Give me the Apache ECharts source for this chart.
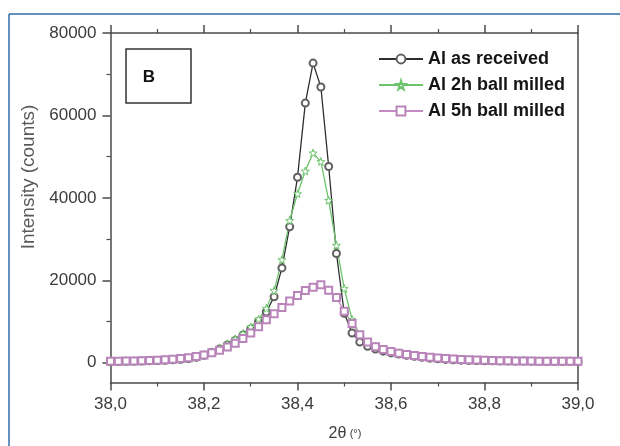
<!DOCTYPE html>
<html><head><meta charset="utf-8">
<script src="https://cdn.jsdelivr.net/npm/echarts@6/dist/echarts.min.js"></script>
<style>html,body{margin:0;padding:0;background:#fff}#c{width:620px;height:446px}</style>
</head><body><div id="c"></div>
<script>
const seriesNames = ['Al as received', 'Al 2h ball milled', 'Al 5h ball milled'];
const twoTheta = [38.0000,38.0167,38.0333,38.0500,38.0667,38.0833,38.1000,38.1167,38.1333,38.1500,
  38.1667,38.1833,38.2000,38.2167,38.2333,38.2500,38.2667,38.2833,38.3000,38.3167,
  38.3333,38.3500,38.3667,38.3833,38.4000,38.4167,38.4333,38.4500,38.4667,38.4833,
  38.5000,38.5167,38.5333,38.5500,38.5667,38.5833,38.6000,38.6167,38.6333,38.6500,
  38.6667,38.6833,38.7000,38.7167,38.7333,38.7500,38.7667,38.7833,38.8000,38.8167,
  38.8333,38.8500,38.8667,38.8833,38.9000,38.9167,38.9333,38.9500,38.9667,38.9833,39.0000];
const asReceived = [300,320,350,380,420,470,530,600,700,820,
  1000,1300,1800,2500,3300,4300,5400,6700,8200,10000,
  12300,16000,23000,33000,45000,63000,72700,66900,47600,26500,
  12000,7200,5000,4000,3300,2800,2400,2100,1800,1550,
  1300,1100,950,800,700,620,560,520,490,460,
  440,420,400,390,380,370,360,350,340,330,320];
const milled2h = [320,340,370,400,440,490,560,640,750,880,
  1080,1400,1950,2700,3600,4600,5800,7100,8700,10600,
  13200,17500,25000,34500,41000,46500,50900,48800,39400,28500,
  18000,10500,6800,5000,4000,3300,2800,2400,2050,1750,
  1500,1300,1100,950,820,720,640,580,530,490,
  460,440,420,400,390,380,370,360,350,340,330];
const milled5h = [350,370,400,440,490,550,620,720,850,1000,
  1200,1500,1900,2400,3000,3800,4700,5900,7200,8700,
  10400,11900,13400,15000,16300,17500,18300,18900,17600,15800,
  12500,9500,6800,5000,3900,3200,2700,2300,2000,1750,
  1500,1300,1150,1000,880,780,700,630,570,520,
  480,450,430,410,390,380,370,360,350,340,330];
const yTicks = [0, 20000, 40000, 60000, 80000];
const yMinorTicks = [10000, 30000, 50000, 70000];

const starPath = 'path://M50,0 L61,35 L98,35 L68,57 L79,91 L50,70 L21,91 L32,57 L2,35 L39,35 Z';
const chart = echarts.init(document.getElementById('c'), null, {renderer: 'canvas'});
const axisCol = '#4a4a4a';
const FF = 'Liberation Sans, Arial, sans-serif';
const lblStyle = {color: '#3c3c3c', fontSize: 17, fontFamily: FF};
function pairs(ys){ return twoTheta.map((x,i)=>[x, ys[i]]); }
chart.setOption({
  animation: false,
  backgroundColor: '#fff',
  grid: {left: 110.5, right: 42, top: 33, bottom: 63.5, containLabel: false},
  legend: {
    orient: 'vertical', left: 373, top: 45, itemGap: 8, itemWidth: 44, itemHeight: 11,
    textStyle: {color: '#151515', fontSize: 18, fontWeight: 'bold', fontFamily: FF},
    data: seriesNames
  },
  xAxis: [{
    type: 'value', min: 38, max: 39, interval: 0.2, position: 'bottom',
    axisLine: {show: true, onZero: false, lineStyle: {color: axisCol, width: 1.5}},
    axisTick: {show: true, inside: false, length: 8, lineStyle: {color: axisCol, width: 1.5}},
    minorTick: {show: true, splitNumber: 2, length: 4, lineStyle: {color: axisCol, width: 1.2}},
    splitLine: {show: false},
    axisLabel: Object.assign({margin: 13, formatter: v => v.toFixed(1).replace('.', ',')}, lblStyle)
  }, {
    type: 'value', min: 38, max: 39, interval: 0.2, position: 'top',
    axisLine: {show: true, onZero: false, lineStyle: {color: axisCol, width: 1.5}},
    axisTick: {show: true, inside: false, length: 8, lineStyle: {color: axisCol, width: 1.5}},
    minorTick: {show: true, splitNumber: 2, length: 4, lineStyle: {color: axisCol, width: 1.2}},
    splitLine: {show: false}, axisLabel: {show: false}
  }],
  yAxis: [{
    type: 'value', min: -4800, max: 80000, position: 'left',
    axisLine: {show: true, onZero: false, lineStyle: {color: axisCol, width: 1.5}},
    axisTick: {show: true, inside: false, length: 8, customValues: yTicks, lineStyle: {color: axisCol, width: 1.5}},
    axisLabel: Object.assign({margin: 14, customValues: yTicks, formatter: v => String(v)}, lblStyle),
    splitLine: {show: false}
  }, {
    type: 'value', min: -4800, max: 80000, position: 'left', offset: 0,
    axisLine: {show: false},
    axisTick: {show: true, inside: false, length: 4, customValues: yMinorTicks, lineStyle: {color: axisCol, width: 1.2}},
    axisLabel: {show: false, customValues: yMinorTicks},
    splitLine: {show: false}
  }, {
    type: 'value', min: -4800, max: 80000, position: 'right',
    axisLine: {show: true, onZero: false, lineStyle: {color: axisCol, width: 1.5}},
    axisTick: {show: false}, axisLabel: {show: false}, splitLine: {show: false}
  }],
  series: [{
    name: seriesNames[0], type: 'line', data: pairs(asReceived),
    symbol: 'emptyCircle', symbolSize: 7,
    lineStyle: {color: '#2e2e2e', width: 1.3},
    itemStyle: {color: '#606060', borderColor: '#606060', borderWidth: 1}
  }, {
    name: seriesNames[1], type: 'line', data: pairs(milled2h),
    symbol: starPath, symbolSize: 8,
    lineStyle: {color: '#6cc46c', width: 1.3},
    itemStyle: {color: '#ffffff', borderColor: '#6cc46c', borderWidth: 1}
  }, {
    name: seriesNames[2], type: 'line', data: pairs(milled5h),
    symbol: 'emptyRect', symbolSize: 7,
    lineStyle: {color: '#c48ac4', width: 1.3},
    itemStyle: {color: '#b984b9', borderColor: '#b984b9', borderWidth: 1}
  }],
  graphic: [
    {type: 'line', shape: {x1: 9, y1: 14, x2: 620, y2: 14}, style: {stroke: '#2f6ea8', lineWidth: 1.5}},
    {type: 'line', shape: {x1: 9, y1: 14, x2: 9, y2: 446}, style: {stroke: '#2f6ea8', lineWidth: 1.5}},
    {type: 'rect', shape: {x: 126, y: 49, width: 65, height: 54}, style: {fill: '#fff', stroke: '#333', lineWidth: 1.5}},
    {type: 'text', x: 149, y: 77, style: {text: 'B', fontSize: 17, fontWeight: 'bold', fill: '#111', align: 'center', verticalAlign: 'middle', fontFamily: FF}},
    {type: 'text', x: 29, y: 177, rotation: Math.PI / 2, style: {text: 'Intensity (counts)', fontSize: 19, fill: '#5a5a5a', align: 'center', verticalAlign: 'middle', fontFamily: FF}},
    {type: 'text', x: 345, y: 434, style: {
      text: '{a|2θ} {b|(°)}', align: 'center', verticalAlign: 'middle',
      rich: {a: {fontSize: 16, fill: '#3c3c3c', fontFamily: FF}, b: {fontSize: 11, fill: '#3c3c3c', fontFamily: FF}}
    }}
  ]
});
</script></body></html>
